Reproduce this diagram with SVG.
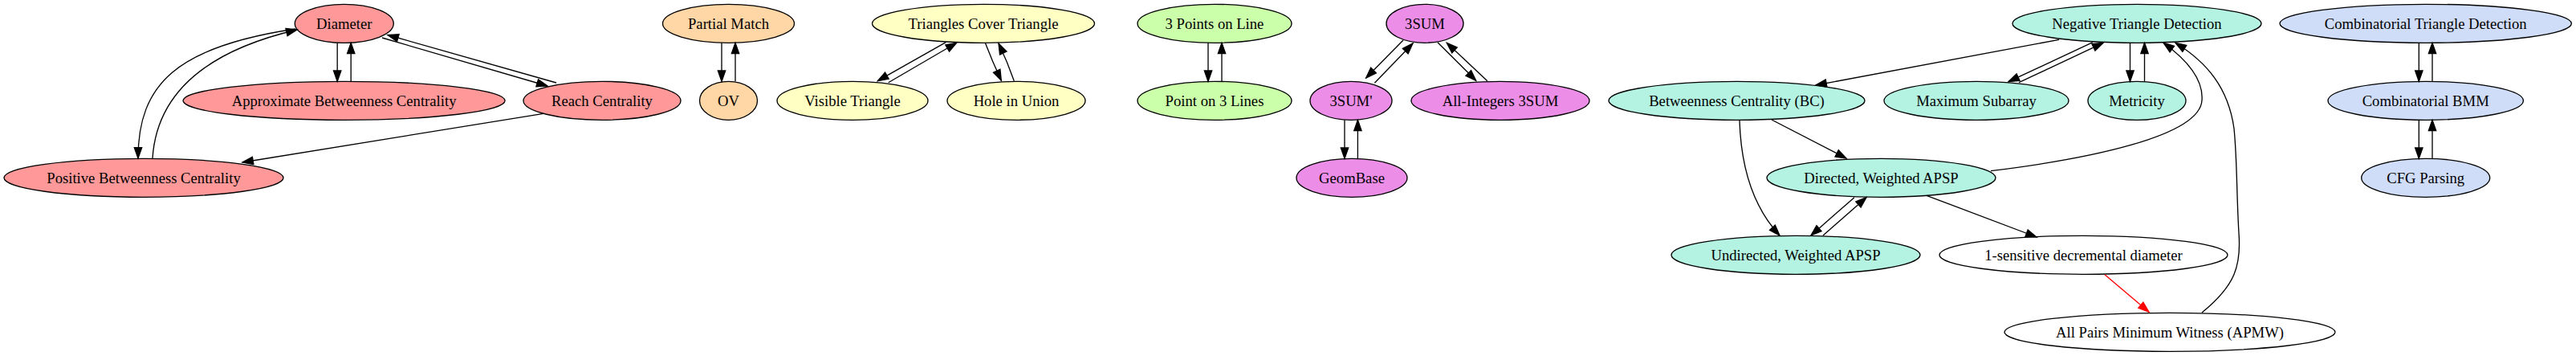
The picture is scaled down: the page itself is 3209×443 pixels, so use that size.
<svg xmlns="http://www.w3.org/2000/svg" width="3209" height="443" viewBox="0 0 3209 443">
<style>
.n ellipse{stroke:#000;stroke-width:1.33}
.n text{font-family:"Liberation Serif","Times New Roman",serif;font-size:18.67px;text-anchor:middle;fill:#000}
.red ellipse{fill:#ff9999}
.peach ellipse{fill:#ffd6a5}
.yel ellipse{fill:#ffffc4}
.grn ellipse{fill:#ccffaa}
.vio ellipse{fill:#ec8ee8}
.teal ellipse{fill:#b4f2e1}
.wht ellipse{fill:#ffffff}
.blu ellipse{fill:#d0ddf8}
#edges path{fill:none;stroke:#000;stroke-width:1.33;marker-end:url(#ah)}
#edges path.r{stroke:#ff0000;marker-end:url(#ahr)}
</style>
<defs>
<marker id="ah" viewBox="-1 -6 16 12" refX="13.33" refY="0" markerWidth="16" markerHeight="12" markerUnits="userSpaceOnUse" orient="auto"><path d="M0,-4.67 L13.33,0 L0,4.67 z" fill="#000" stroke="#000" stroke-width="1.33"/></marker>
<marker id="ahr" viewBox="-1 -6 16 12" refX="13.33" refY="0" markerWidth="16" markerHeight="12" markerUnits="userSpaceOnUse" orient="auto"><path d="M0,-4.67 L13.33,0 L0,4.67 z" fill="#ff0000" stroke="#ff0000" stroke-width="1.33"/></marker>
</defs>
<rect x="0" y="0" width="3209" height="443" fill="#ffffff"/>
<g id="nodes">
<g id="n_diameter" class="n red"><ellipse cx="428.8" cy="29.3" rx="61.5" ry="24"/><text x="428.8" y="35.5">Diameter</text></g>
<g id="n_abc" class="n red"><ellipse cx="428.6" cy="125.3" rx="200.5" ry="24"/><text x="428.6" y="131.5">Approximate Betweenness Centrality</text></g>
<g id="n_reach" class="n red"><ellipse cx="750" cy="125.3" rx="98" ry="24"/><text x="750" y="131.5">Reach Centrality</text></g>
<g id="n_pbc" class="n red"><ellipse cx="179" cy="221.3" rx="174" ry="24"/><text x="179" y="227.5">Positive Betweenness Centrality</text></g>
<g id="n_pm" class="n peach"><ellipse cx="907.5" cy="29.3" rx="82" ry="24"/><text x="907.5" y="35.5">Partial Match</text></g>
<g id="n_ov" class="n peach"><ellipse cx="907.5" cy="125.3" rx="36" ry="24"/><text x="907.5" y="131.5">OV</text></g>
<g id="n_tct" class="n yel"><ellipse cx="1225" cy="29.3" rx="138.5" ry="24"/><text x="1225" y="35.5">Triangles Cover Triangle</text></g>
<g id="n_vis" class="n yel"><ellipse cx="1062" cy="125.3" rx="94" ry="24"/><text x="1062" y="131.5">Visible Triangle</text></g>
<g id="n_hole" class="n yel"><ellipse cx="1266" cy="125.3" rx="86" ry="24"/><text x="1266" y="131.5">Hole in Union</text></g>
<g id="n_3pl" class="n grn"><ellipse cx="1513" cy="29.3" rx="96" ry="24"/><text x="1513" y="35.5">3 Points on Line</text></g>
<g id="n_p3l" class="n grn"><ellipse cx="1513" cy="125.3" rx="96" ry="24"/><text x="1513" y="131.5">Point on 3 Lines</text></g>
<g id="n_3sum" class="n vio"><ellipse cx="1775" cy="29.3" rx="48" ry="24"/><text x="1775" y="35.5">3SUM</text></g>
<g id="n_3sump" class="n vio"><ellipse cx="1683" cy="125.3" rx="51" ry="24"/><text x="1683" y="131.5">3SUM'</text></g>
<g id="n_allint" class="n vio"><ellipse cx="1869" cy="125.3" rx="111" ry="24"/><text x="1869" y="131.5">All-Integers 3SUM</text></g>
<g id="n_geom" class="n vio"><ellipse cx="1684" cy="221.3" rx="69" ry="24"/><text x="1684" y="227.5">GeomBase</text></g>
<g id="n_ntd" class="n teal"><ellipse cx="2662" cy="29.3" rx="155" ry="24"/><text x="2662" y="35.5">Negative Triangle Detection</text></g>
<g id="n_bc" class="n teal"><ellipse cx="2163.5" cy="125.3" rx="159.5" ry="24"/><text x="2163.5" y="131.5">Betweenness Centrality (BC)</text></g>
<g id="n_maxsub" class="n teal"><ellipse cx="2462" cy="125.3" rx="115" ry="24"/><text x="2462" y="131.5">Maximum Subarray</text></g>
<g id="n_metric" class="n teal"><ellipse cx="2662" cy="125.3" rx="61" ry="24"/><text x="2662" y="131.5">Metricity</text></g>
<g id="n_dwapsp" class="n teal"><ellipse cx="2343.5" cy="221.3" rx="142.5" ry="24"/><text x="2343.5" y="227.5">Directed, Weighted APSP</text></g>
<g id="n_uwapsp" class="n teal"><ellipse cx="2237" cy="317.3" rx="155" ry="24"/><text x="2237" y="323.5">Undirected, Weighted APSP</text></g>
<g id="n_1sdd" class="n wht"><ellipse cx="2595.5" cy="317.3" rx="179.5" ry="24"/><text x="2595.5" y="323.5">1-sensitive decremental diameter</text></g>
<g id="n_apmw" class="n wht"><ellipse cx="2703" cy="413.3" rx="206" ry="24"/><text x="2703" y="419.5">All Pairs Minimum Witness (APMW)</text></g>
<g id="n_ctd" class="n blu"><ellipse cx="3021.7" cy="29.3" rx="181.7" ry="24"/><text x="3021.7" y="35.5">Combinatorial Triangle Detection</text></g>
<g id="n_bmm" class="n blu"><ellipse cx="3021.7" cy="125.3" rx="121.7" ry="24"/><text x="3021.7" y="131.5">Combinatorial BMM</text></g>
<g id="n_cfg" class="n blu"><ellipse cx="3021.7" cy="221.3" rx="80" ry="24"/><text x="3021.7" y="227.5">CFG Parsing</text></g>
</g>
<g id="edges">
<path d="M420.2,53.3 L420.2,101.3"/>
<path d="M437.2,101.3 L437.2,53.3"/>
<path d="M476,47 L682,107"/>
<path d="M693,103 L483,43.5"/>
<path d="M677,141.3 L302,202"/>
<path d="M368,36 C220,58 172,105 172,197"/>
<path d="M190,197 C195,120 250,65 370,37"/>
<path d="M899,53.3 L899,101.3"/>
<path d="M916,101.3 L916,53.3"/>
<path d="M1178.3,52.7 L1093.3,100.7"/>
<path d="M1106.7,102.7 L1191.7,53.3"/>
<path d="M1227.3,53.3 Q1236,76 1247.3,100.3"/>
<path d="M1263.3,100.7 Q1255,77 1244,54"/>
<path d="M1505,53.3 L1505,101.3"/>
<path d="M1522,101.3 L1522,53.3"/>
<path d="M1748,50 L1701.7,97"/>
<path d="M1712.4,103.3 L1760,54"/>
<path d="M1790.9,52.7 L1838.7,100.3"/>
<path d="M1852.8,100.7 L1802.3,53.3"/>
<path d="M1675,149.3 L1675,197.3"/>
<path d="M1691.4,197.3 L1691.4,149.3"/>
<path d="M2565,49.3 L2262,106"/>
<path d="M2607,52.7 L2502,101.7"/>
<path d="M2515,102.7 L2620,53.3"/>
<path d="M2653.5,53.3 L2653.5,101.3"/>
<path d="M2671.5,101.3 L2671.5,53.3"/>
<path d="M2207,149 L2300,197"/>
<path d="M2167,150 C2169,215 2188,262 2217,293"/>
<path d="M2310,245.7 L2256,293"/>
<path d="M2271,293 L2325,245.7"/>
<path d="M2400,243.3 L2537,295"/>
<path d="M2480,212.7 C2600,198 2740,170 2743,125 C2745,100 2725,75 2695,53.3"/>
<path class="r" d="M2622,341.7 L2677,388.3"/>
<path d="M2743,389 C2785,355 2792,330 2789,290 C2786,240 2787,200 2783,160 C2776,110 2750,78 2710,53.3"/>
<path d="M3013.3,53.3 L3013.3,101.3"/>
<path d="M3030,101.3 L3030,53.3"/>
<path d="M3013.3,149.3 L3013.3,197.3"/>
<path d="M3030,197.3 L3030,149.3"/>
</g>
</svg>
